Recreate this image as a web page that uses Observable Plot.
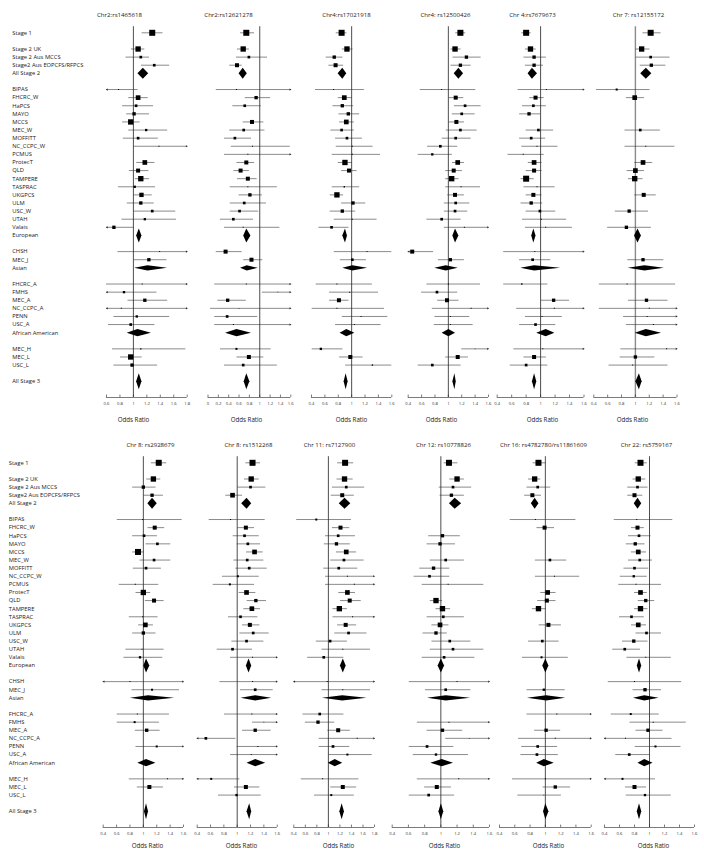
<!DOCTYPE html>
<html><head><meta charset="utf-8">
<script src="https://cdn.jsdelivr.net/npm/d3@7"></script>
<script src="https://cdn.jsdelivr.net/npm/@observablehq/plot@0.6"></script>
<style>
html,body{margin:0;padding:0;background:#fff;}
#chart{position:relative;width:704px;height:855px;overflow:hidden;background:#fff;}
#chart svg{position:absolute;left:0;background:transparent;}
</style></head><body><div id="chart"></div>
<script>
// ---- row labels (groups separated by a blank row) ----
const rowGroups = [
  ["Stage 1"],
  ["Stage 2 UK", "Stage 2 Aus MCCS", "Stage2 Aus EOPCFS/RFPCS", "All Stage 2"],
  ["BIPAS","FHCRC_W","HaPCS","MAYO","MCCS","MEC_W","MOFFITT","NC_CCPC_W","PCMUS","ProtecT","QLD","TAMPERE","TASPRAC","UKGPCS","ULM","USC_W","UTAH","Valais","European"],
  ["CHSH","MEC_J","Asian"],
  ["FHCRC_A","FMHS","MEC_A","NC_CCPC_A","PENN","USC_A","African American"],
  ["MEC_H","MEC_L","USC_L"],
  ["All Stage 3"]
];
const summaryLabels = ["All Stage 2","European","Asian","African American","All Stage 3"];

// ---- tick labels ----
const ticks06_18 = [0.6,0.8,1,1.2,1.4,1.6,1.8];
const ticks00_16 = [0,0.2,0.4,0.6,0.8,1,1.2,1.4,1.6];
const ticks04_16 = [0.4,0.6,0.8,1,1.2,1.4,1.6];
const ticks04_18 = [0.4,0.6,0.8,1,1.2,1.4,1.6,1.8];

// ---- panel titles ----
const titlesTop = ["Chr2:rs1465618","Chr2:rs12621278","Chr4:rs17021918","Chr4: rs12500426","Chr 4:rs7679673","Chr 7: rs12155172"];
const titlesBottom = ["Chr 8: rs2928679","Chr 8: rs1512268","Chr 11: rs7127900","Chr 12: rs10778826","Chr 16: rs4782780/rs11861609","Chr 22: rs5759167"];

// ---- values: [odds ratio, lower CI, upper CI, study weight] per row (summary rows: [OR, lo, hi]) ----
const p1 = [
 [1.28,1.13,1.44,9],[1.07,0.97,1.17,8],[1.11,0.89,1.24,4],[1.31,1.12,1.54,4],[1.14,1.06,1.22],
 [0.78,0.4,1.07,1.5],[1.07,0.93,1.22,7],[1.04,0.84,1.30,4],[1.01,0.90,1.24,5],[0.96,0.84,1.10,8],[1.19,0.93,1.51,3.5],[1.07,0.85,1.37,4],[1.38,1.01,2.0,1.5],null,[1.17,1.05,1.32,7],[1.07,0.94,1.23,6],[1.11,1.03,1.24,8],[1.02,0.78,1.33,3.5],[1.12,1.01,1.28,6.5],[1.11,0.91,1.31,5],[1.28,1.01,1.63,4],[1.17,0.83,1.64,3.5],[0.71,0.5,1.01,5],[1.08,1.04,1.12],
 [1.39,0.77,2.0,1.5],[1.23,1.01,1.50,5],[1.21,1.01,1.50],
 [1.13,0.6,2.0,1.5],[0.86,0.5,1.35,3.5],[1.17,0.92,1.51,5],[0.82,0.5,2.0,1.5],[1.05,0.71,1.54,3.5],[0.96,0.63,1.32,4],[1.06,0.90,1.26],
 [1.11,0.69,1.78,2],[0.96,0.81,1.13,8],[0.98,0.71,1.36,5],
 [1.08,1.04,1.12]
];
const p2 = [
 [0.74,0.63,0.90,9],[0.68,0.57,0.80,8],[0.79,0.55,1.15,4],[0.56,0.42,0.66,6],[0.67,0.59,0.75],
 [0.55,0.16,1.7,1.5],[0.93,0.72,1.21,5],[0.71,0.48,1.03,4],null,[0.85,0.68,1.08,6],[0.69,0.42,1.10,4],[0.52,0.32,0.84,4],[0.86,0.45,1.59,1.5],[0.77,0.32,1.8,1.5],[0.74,0.56,0.90,6],[0.63,0.5,0.8,6],[0.77,0.57,0.95,6],[0.77,0.43,1.34,1.5],[0.81,0.6,1.05,5],[0.70,0.43,1.13,4],[0.61,0.43,0.98,4],[0.49,0.24,0.88,4],[0.68,0.32,1.39,1.5],[0.74,0.68,0.82],
 [0.34,0.16,0.66,6],[0.84,0.69,1.06,6],[0.75,0.62,0.96],
 [0.74,0.13,1.7,1.5],[1.35,1.05,1.8,1],[0.38,0.19,0.74,5],[0.6,0.05,1.8,1],[0.37,0.13,0.96,4],[0.49,0.13,1.8,1.5],[0.55,0.33,0.83],
 [0.55,0.24,1.22,3],[0.79,0.56,1.08,6],[0.68,0.32,1.34,4],
 [0.74,0.69,0.80]
];
const p3 = [
 [0.85,0.77,0.93,9],[0.93,0.86,1.02,8],[0.74,0.62,0.87,5],[0.76,0.66,0.88,6],[0.86,0.79,0.92],
 [0.73,0.46,1.19,1.5],[0.89,0.80,1.01,7],[0.86,0.72,1.03,5],[0.95,0.81,1.12,5],[0.92,0.82,1.04,7],[0.85,0.69,1.04,4],[0.93,0.76,1.16,4],[1.01,0.77,1.32,1.5],[1.01,0.71,1.43,1.5],[0.90,0.80,1.01,8],[0.96,0.85,1.08,6],null,[0.89,0.71,1.12,2],[0.78,0.68,0.88,8],[1.02,0.85,1.21,5],[0.86,0.68,1.06,5],[1.01,0.74,1.38,1.5],[0.70,0.51,0.96,4],[0.90,0.86,0.93],
 [1.23,0.74,1.6,1.5],[1.01,0.83,1.22,4],[1.01,0.86,1.23],
 [0.78,0.47,1.31,1.5],[0.97,0.67,1.40,1.5],[0.81,0.67,0.96,6],[0.78,0.41,1.49,1.5],[1.14,0.86,1.54,1.5],[1.04,0.76,1.44,1.5],[0.92,0.82,1.04],
 [0.54,0.41,0.87,3.5],[0.98,0.82,1.17,6],[1.31,0.91,1.60,2],
 [0.91,0.88,0.94]
];
const p4 = [
 [1.18,1.11,1.26,9],[1.10,1.04,1.19,8],[1.27,1.07,1.49,5],[1.18,1.04,1.34,5],[1.15,1.08,1.22],
 [0.90,0.58,1.41,1.5],[1.11,1.01,1.23,6],[1.25,1.09,1.49,4],[1.20,1.06,1.40,4],[1.12,1.01,1.24,6],[1.18,0.97,1.43,4],[1.11,0.91,1.34,4],[0.88,0.69,1.14,4],[0.76,0.55,1.06,3.5],[1.14,1.06,1.24,7],[1.08,0.96,1.21,6],[1.05,0.96,1.16,8],[1.19,0.96,1.48,1.5],[1.10,0.99,1.24,6],[1.11,0.94,1.32,4],[1.10,0.94,1.29,4],[0.90,0.68,1.19,4],[1.24,0.94,1.8,1.5],[1.10,1.06,1.15],
 [0.46,0.3,0.78,6],[1.03,0.85,1.24,5],[0.96,0.79,1.14],
 [1.0,0.68,1.48,1.5],[0.83,0.60,1.14,4],[0.98,0.84,1.16,6],[1.34,0.76,1.8,1.5],[1.03,0.80,1.32,1.5],[1.03,0.79,1.37,1.5],[1.0,0.90,1.10],
 [1.4,1.2,1.8,1],[1.14,0.96,1.30,6],[0.76,0.55,1.19,4],
 [1.09,1.06,1.11]
];
const p5 = [
 [0.80,0.74,0.87,9],[0.86,0.79,0.94,8],[0.91,0.77,1.08,5],[0.91,0.79,1.04,5],[0.88,0.82,0.95],
 [1.08,0.69,1.8,1.5],[0.93,0.85,1.05,6],[0.90,0.75,1.08,4],[0.84,0.71,1.0,5],null,[0.97,0.80,1.18,4],[0.87,0.71,1.07,4],[0.95,0.74,1.24,1.5],[0.76,0.55,1.05,1.5],[0.91,0.83,1.02,7],[0.91,0.80,1.02,6],[0.80,0.73,0.91,9],[0.95,0.77,1.20,1.5],[0.90,0.80,1.02,6],[0.87,0.73,1.03,5],[0.99,0.80,1.21,4],[1.01,0.75,1.36,1.5],[1.07,0.79,1.44,1.5],[0.90,0.87,0.93],
 [0.92,0.49,1.8,1.5],[0.89,0.71,1.14,4],[0.91,0.72,1.27],
 [0.74,0.49,1.10,2],null,[1.18,1.01,1.40,5],[1.19,0.67,1.8,1.5],[1.02,0.79,1.30,1.5],[0.93,0.71,1.21,4],[1.07,0.94,1.19],
 [1.03,0.63,1.8,1.5],[0.91,0.77,1.08,6],[0.80,0.58,1.10,4],
 [0.91,0.88,0.94]
];
const p6 = [
 [1.22,1.11,1.37,9],[1.09,1.01,1.21,8],[1.22,1.01,1.50,4],[1.23,1.07,1.44,5],[1.15,1.07,1.23],
 [0.73,0.44,1.21,3],[0.99,0.87,1.13,7],null,null,null,[1.07,0.85,1.36,4],null,[1.15,0.85,1.57,1.5],null,[1.11,0.99,1.25,7],[1.0,0.88,1.13,7],[0.99,0.90,1.11,8],null,[1.12,0.99,1.30,6],null,[0.91,0.71,1.19,5],null,[0.87,0.60,1.23,5],[1.03,0.98,1.08],
 null,[1.11,0.89,1.41,5],[1.13,0.89,1.41],
 [0.88,0.48,1.58,1.5],null,[1.16,0.90,1.47,5],[1.2,0.48,1.8,1.5],[1.17,0.83,1.8,1.5],[1.26,0.87,1.8,1.5],[1.15,0.99,1.37],
 [1.45,0.79,1.8,1.5],[1.0,0.78,1.28,5],[0.96,0.62,1.47,1.5],
 [1.05,1.0,1.09]
];
const p7 = [
 [1.23,1.12,1.35,9],[1.15,1.05,1.26,8],[1.0,0.84,1.19,5],[1.13,1.01,1.30,5],[1.13,1.06,1.20],
 [0.99,0.61,1.58,1.5],[1.17,1.07,1.32,6],[1.01,0.84,1.21,4],[1.21,1.04,1.41,4],[0.92,0.84,1.01,9],[1.16,0.95,1.41,4],[1.04,0.85,1.27,4],null,[0.88,0.64,1.23,1.5],[1.0,0.89,1.11,8],[1.16,1.03,1.31,6],null,[0.99,0.79,1.22,1.5],[1.03,0.93,1.15,7],[1.0,0.84,1.19,5],null,[0.98,0.74,1.31,1.5],[0.95,0.71,1.29,3.5],[1.04,1.0,1.09],
 [0.80,0.3,1.8,1.5],[1.13,0.83,1.54,3],[1.07,0.80,1.46],
 [0.91,0.61,1.39,1.5],[0.87,0.61,1.24,3],[1.05,0.88,1.25,5],null,[1.20,0.89,1.7,3],null,[1.04,0.91,1.18],
 [1.36,0.79,1.8,1.5],[1.09,0.91,1.30,6],null,
 [1.04,1.01,1.07]
];
const p8 = [
 [1.23,1.13,1.35,9],[1.21,1.11,1.33,8],[1.2,1.01,1.43,4],[0.93,0.83,1.08,7],[1.14,1.06,1.21],
 [0.9,0.58,1.42,1.5],[1.13,1.01,1.26,6],[1.11,0.94,1.33,4],[1.16,1.0,1.35,4],[1.26,1.14,1.39,7],[1.15,0.95,1.40,4],[1.18,0.98,1.45,4],[1.01,0.78,1.33,3],[0.89,0.64,1.26,3],[1.14,1.03,1.28,7],[1.28,1.15,1.44,5],[1.22,1.10,1.35,7],[1.05,0.87,1.31,4],[1.19,1.08,1.34,6],[1.24,1.04,1.48,4],[1.14,0.92,1.40,4],[0.93,0.70,1.23,4],[1.23,0.9,1.8,1.5],[1.17,1.13,1.21],
 [1.23,0.74,1.8,1.5],[1.27,1.05,1.54,4],[1.27,1.05,1.51],
 [1.22,0.81,1.8,1.5],[1.4,1.23,1.8,1],[1.27,1.08,1.51,5],[0.53,0.3,0.98,4],[1.31,1.0,1.8,1.5],[1.21,0.9,1.8,1.5],[1.27,1.14,1.42],
 [0.61,0.3,1.04,3],[1.13,0.96,1.34,6],[0.99,0.72,1.36,3.5],
 [1.18,1.14,1.21]
];
const p9 = [
 [1.29,1.16,1.44,9],[1.28,1.15,1.43,8],[1.31,1.07,1.63,4],[1.24,1.05,1.45,6],[1.28,1.18,1.38],
 [0.79,0.45,1.40,3],[1.21,1.07,1.37,6],[1.17,0.95,1.47,4],[1.14,0.93,1.38,5],[1.31,1.14,1.49,7],[1.27,1.04,1.62,4],[1.18,0.92,1.51,4],[1.33,0.95,1.9,1.5],[1.45,0.95,1.9,1.5],[1.33,1.18,1.47,7],[1.37,1.21,1.57,6],[1.19,1.08,1.33,8],[1.42,1.08,1.9,1.5],[1.30,1.16,1.49,6],[1.35,1.11,1.67,4],[1.03,0.79,1.33,4],[1.25,0.89,1.73,1.5],[0.92,0.64,1.27,4],[1.25,1.2,1.3],
 [0.98,0.3,1.9,1.5],[1.25,0.89,1.73,1.5],[1.24,0.89,1.66],
 [0.85,0.56,1.27,4],[0.82,0.60,1.11,5],[1.17,0.99,1.38,6],[1.50,0.84,1.9,1.5],[1.08,0.84,1.37,4],[1.33,1.01,1.76,3],[1.11,0.99,1.24],
 [0.90,0.53,1.53,1.5],[1.25,1.04,1.49,6],[1.05,0.76,1.45,3],
 [1.23,1.19,1.27]
];
const p10 = [
 [1.10,1.04,1.21,9],[1.20,1.11,1.29,8],[1.15,0.98,1.38,4],[1.13,0.99,1.29,5],[1.17,1.10,1.25],
 null,null,[1.02,0.85,1.24,5],[0.99,0.83,1.18,5],null,[1.06,0.87,1.29,4],[0.91,0.74,1.11,5],[0.86,0.67,1.11,4],[1.09,0.77,1.53,1.5],null,[0.94,0.87,1.02,8],[1.02,0.94,1.12,8],[1.03,0.83,1.29,4],[0.99,0.89,1.10,7],[0.94,0.78,1.08,5],[1.11,0.89,1.37,4],[1.15,0.87,1.53,4],[1.04,0.77,1.42,4],[1.0,0.96,1.04],
 [1.2,0.61,1.8,1.5],[1.06,0.81,1.37,4],[1.06,0.83,1.36],
 null,[1.1,0.71,1.8,1.5],[1.02,0.83,1.27,5],[1.35,1.06,1.8,1],[0.83,0.61,1.16,4],[0.94,0.66,1.34,3.5],[1.01,0.87,1.15],
 [1.22,0.71,1.8,1.5],[0.95,0.80,1.13,6],[0.85,0.61,1.17,4],
 [1.0,0.97,1.03]
];
const p11 = [
 [0.91,0.84,1.01,9],[0.86,0.78,0.94,8],[0.90,0.76,1.07,4],[0.83,0.73,0.95,6],[0.86,0.81,0.91],
 [0.87,0.54,1.40,1.5],[0.99,0.89,1.12,6],null,null,null,[1.06,0.87,1.28,4],null,[1.12,0.87,1.45,1.5],null,[1.03,0.94,1.14,7],[1.02,0.90,1.14,6],[0.91,0.83,1.01,8],null,[1.04,0.92,1.21,6],null,[0.96,0.78,1.18,4],null,[0.95,0.70,1.30,3],[1.0,0.96,1.04],
 null,[0.98,0.76,1.26,3.5],[1.01,0.76,1.26],
 [1.15,0.76,1.8,1.5],null,[1.01,0.86,1.20,5],[1.13,0.65,1.8,1.5],[0.90,0.69,1.16,4],[0.89,0.68,1.17,4],[0.98,0.88,1.11],
 [1.0,0.57,1.8,1.5],[1.13,0.97,1.33,5],[0.98,0.64,1.21,1],
 [1.0,0.97,1.04]
];
const p12 = [
 [0.88,0.81,0.97,9],[0.85,0.78,0.95,8],[0.84,0.71,0.98,4],[0.80,0.71,0.91,6],[0.84,0.79,0.89],
 [0.83,0.53,1.31,1.5],[0.84,0.76,0.93,6],[0.86,0.72,1.02,4],[0.81,0.69,0.94,5],[0.85,0.76,0.96,7],[0.87,0.72,1.04,4],[0.80,0.66,0.99,4],[0.79,0.61,0.97,3.5],[0.82,0.59,1.16,1.5],[0.88,0.80,0.97,7],[0.95,0.85,1.07,5],[0.88,0.80,0.98,8],[0.76,0.60,0.93,4],[0.85,0.76,0.96,7],[0.96,0.82,1.16,4],[0.79,0.64,0.98,5],[0.67,0.51,0.88,4],[0.95,0.70,1.29,1.5],[0.86,0.83,0.89],
 [0.80,0.45,1.43,1.5],[0.94,0.78,1.16,5],[0.93,0.78,1.12],
 [0.75,0.49,1.13,3],[1.05,0.74,1.49,1.5],[0.98,0.82,1.18,5],[0.68,0.3,1.30,1.5],[1.08,0.81,1.42,3],[0.73,0.55,1.0,4],[0.93,0.84,1.04],
 [0.64,0.3,1.08,3],[0.80,0.68,0.96,6],[0.94,0.69,1.29,3.5],
 [0.86,0.83,0.89]
];

// ---- layout (pixels) ----
const ROW_TOP = 32.3, AXIS_PX = 397, AXIS_ROW = 45;
const ROWPX = (AXIS_PX - ROW_TOP) / AXIS_ROW;
const diamondHalf = {"All Stage 2": 5.5, "European": 7, "Asian": 2.6, "African American": 3.6, "All Stage 3": 8};
const FONT = "'Open Sans', 'Liberation Sans', sans-serif";

const labels = rowGroups.flat();
const rowIndex = [];
{ let r = 0; rowGroups.forEach(g => { g.forEach(() => rowIndex.push(r++)); r++; }); }

const bands = [
  {top: 0, labelX: 11.7, orY: 417, titles: titlesTop},
  {top: 430, labelX: 8.3, orY: 413, titles: titlesBottom}
];
const panels = [
  {band: 0, i: 0, values: p1, domain: [0.6, 1.8], ticks: ticks06_18, range: [106, 186.7], titleX: 119, orX: 133},
  {band: 0, i: 1, values: p2, domain: [0, 1.6], ticks: ticks00_16, range: [207.5, 290.3], titleX: 228, orX: 246},
  {band: 0, i: 2, values: p3, domain: [0.4, 1.6], ticks: ticks04_16, range: [311, 391.3], titleX: 346, orX: 351},
  {band: 0, i: 3, values: p4, domain: [0.4, 1.6], ticks: ticks04_16, range: [407.7, 488], titleX: 445, orX: 441},
  {band: 0, i: 4, values: p5, domain: [0.4, 1.6], ticks: ticks04_16, range: [496.7, 583.5], titleX: 532, orX: 542},
  {band: 0, i: 5, values: p6, domain: [0.4, 1.6], ticks: ticks04_16, range: [593.3, 676.5], titleX: 638, orX: 632, refStroke: "#8a8a8a", refWidth: 1.4},
  {band: 1, i: 0, values: p7, domain: [0.4, 1.6], ticks: ticks04_16, range: [102.7, 183], titleX: 150, orX: 147},
  {band: 1, i: 1, values: p8, domain: [0.4, 1.6], ticks: ticks04_16, range: [196.7, 276.7], titleX: 248, orX: 241},
  {band: 1, i: 2, values: p9, domain: [0.4, 1.8], ticks: ticks04_18, range: [293.3, 374], titleX: 329, orX: 338},
  {band: 1, i: 3, values: p10, domain: [0.4, 1.6], ticks: ticks04_16, range: [391.7, 489], titleX: 443, orX: 444},
  {band: 1, i: 4, values: p11, domain: [0.4, 1.6], ticks: ticks04_16, range: [499, 590.7], titleX: 543, orX: 548},
  {band: 1, i: 5, values: p12, domain: [0.4, 1.6], ticks: ticks04_16, range: [604, 694], titleX: 646, orX: 653}
];

const yScale = {type: "linear", domain: [0, AXIS_ROW], range: [ROW_TOP, AXIS_PX], axis: null};
const chart = document.getElementById("chart");
const fmt = d => String(Math.round(d * 10) / 10);

function place(svg, top) {
  svg.style.top = top + "px";
  svg.style.background = "transparent";
  chart.appendChild(svg);
}

// row label column for each band
bands.forEach(b => {
  const rows = labels.map((label, k) => ({label, row: rowIndex[k]}));
  const svg = Plot.plot({
    width: 704, height: 430, margin: 0,
    style: {fontFamily: FONT, background: "transparent"},
    y: yScale,
    marks: [
      Plot.text(rows, {y: "row", text: "label", frameAnchor: "left", dx: b.labelX, textAnchor: "start", fontSize: 5.8, fill: "#1a1a1a"})
    ]
  });
  place(svg, b.top);
});

panels.forEach(p => {
  const b = bands[p.band];
  const rows = labels.map((label, k) => {
    const v = p.values[k];
    if (!v) return null;
    return {label, row: rowIndex[k], est: v[0], lo: v[1], hi: v[2], wt: v[3], summary: summaryLabels.includes(label)};
  }).filter(d => d);
  const studies = rows.filter(d => !d.summary);
  const sums = rows.filter(d => d.summary);
  const diamonds = sums.flatMap(d => {
    const h = diamondHalf[d.label] / ROWPX;
    return [
      {id: d.label, x: d.lo, y: d.row},
      {id: d.label, x: d.est, y: d.row - h},
      {id: d.label, x: d.hi, y: d.row},
      {id: d.label, x: d.est, y: d.row + h}
    ];
  });
  const [d0, d1] = p.domain;
  const svg = Plot.plot({
    width: 704, height: 430, margin: 0,
    style: {fontFamily: FONT, background: "transparent"},
    x: {domain: p.domain, range: p.range, clamp: true, axis: null},
    y: yScale,
    r: {type: "linear", domain: [0, 9], range: [0, 3.39]},
    marks: [
      Plot.ruleX([1], {y1: -0.75, y2: AXIS_ROW, stroke: p.refStroke || "#111", strokeWidth: p.refWidth || 0.75}),
      Plot.ruleY(studies, {y: "row", x1: "lo", x2: "hi", stroke: "#2a2a2a", strokeWidth: 0.55}),
      Plot.dot(studies.filter(d => d.hi > d1), {x: () => d1, y: "row", symbol: "triangle2", rotate: 90, r: 1.05, dx: -0.6, fill: "#2a2a2a", stroke: "none"}),
      Plot.dot(studies.filter(d => d.lo < d0), {x: () => d0, y: "row", symbol: "triangle2", rotate: -90, r: 1.05, dx: 0.6, fill: "#2a2a2a", stroke: "none"}),
      Plot.dot(studies, {x: "est", y: "row", r: "wt", symbol: "square", fill: "#000", stroke: "none"}),
      Plot.line(diamonds, {x: "x", y: "y", z: "id", curve: "linear-closed", fill: "#000", stroke: "none"}),
      // axis
      Plot.ruleY([AXIS_ROW], {x1: d0, x2: d1, stroke: "#222", strokeWidth: 0.6}),
      Plot.ruleX(p.ticks, {x: d => d, y1: AXIS_ROW - 0.3, y2: AXIS_ROW, stroke: "#222", strokeWidth: 0.6}),
      Plot.text(p.ticks, {x: d => d, y: AXIS_ROW, dy: 6.2, text: fmt, fontSize: 4.2, fill: "#333"}),
      // title and axis label
      Plot.text([b.titles[p.i]], {frameAnchor: "top-left", dx: p.titleX, dy: 12.3, text: d => d, textAnchor: "middle", fontSize: 6.1, fill: "#1a1a1a"}),
      Plot.text(["Odds Ratio"], {frameAnchor: "top-left", dx: p.orX, dy: b.orY, text: d => d, textAnchor: "middle", fontSize: 6.2, fill: "#1a1a1a"})
    ]
  });
  place(svg, b.top);
});
</script>
</body></html>
